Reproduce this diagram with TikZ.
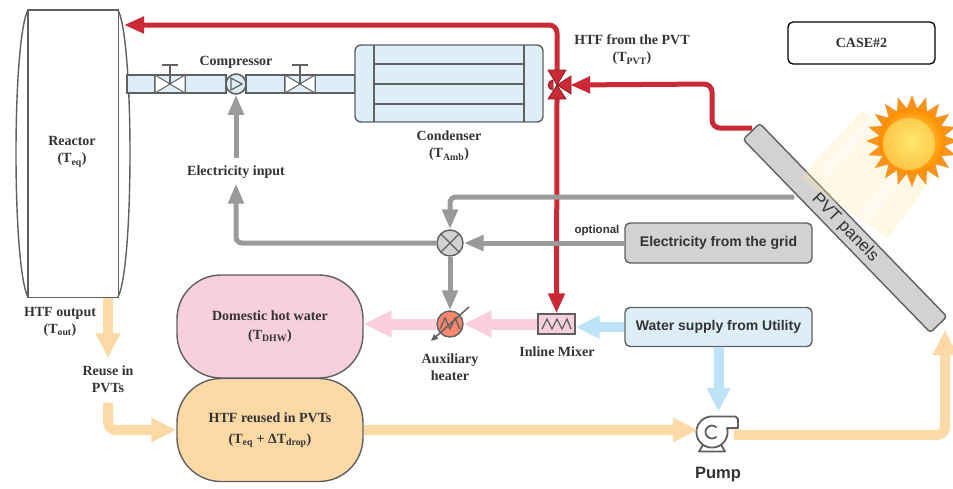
\documentclass[tikz,border=0pt]{standalone}
\usepackage{fontspec}
\setmainfont{Liberation Serif}
\newfontfamily\sansf{Liberation Sans}
\usetikzlibrary{arrows.meta}

\definecolor{txt}{HTML}{333333}
\definecolor{flowred}{HTML}{CC2936}
\definecolor{flowgray}{HTML}{9A9A9A}
\definecolor{flowpeach}{HTML}{FDD9A6}
\definecolor{flowpink}{HTML}{F8CFDB}
\definecolor{flowblue}{HTML}{BEE2F6}
\definecolor{edge}{HTML}{606060}
\definecolor{boxblue}{HTML}{DEEEF9}
\definecolor{boxgray}{HTML}{D2D2D2}
\definecolor{boxpink}{HTML}{F7D0DC}
\definecolor{boxpeach}{HTML}{FDD9A6}
\definecolor{heatred}{HTML}{F8876E}
\definecolor{sunspike}{HTML}{F7931E}
\definecolor{beam}{HTML}{FBE7A6}

\begin{document}
\begin{tikzpicture}[x=1pt,y=-1pt,
  lbl/.style={font=\fontsize{14}{17}\selectfont\bfseries, text=txt, align=center, inner sep=1pt},
  slbl/.style={font=\sansf\fontsize{14}{17}\selectfont\bfseries, text=txt, align=center, inner sep=1pt},
  part/.style={draw=edge, line width=1.4pt},
  srcbox/.style={part, rounded corners=5pt, minimum width=187pt, minimum height=40pt, slbl},
  tank/.style={part, rounded corners=44pt, minimum width=186pt, minimum height=103pt, lbl},
  redflow/.style={draw=flowred, line width=5pt, rounded corners=8pt, -{Triangle[length=20pt,width=16pt]}},
  grayflow/.style={draw=flowgray, line width=5pt, rounded corners=6pt, -{Triangle[length=20pt,width=15pt]}},
  peachflow/.style={draw=flowpeach, line width=10pt, rounded corners=8pt, -{Triangle[length=25pt,width=23pt]}},
  pinkflow/.style={draw=flowpink, line width=11pt, -{Triangle[length=28pt,width=25pt]}},
  blueflow/.style={draw=flowblue, line width=10pt, -{Triangle[length=24pt,width=22pt]}},
  pipe/.style={fill=boxblue, draw=edge, line width=1.2pt},
]
\useasboundingbox (0,0) rectangle (953,488);

% ---------- reactor ----------
\node[inner sep=0, minimum width=90pt, minimum height=287pt] (reactor) at (73,153.5) {};
\fill[white] (28,10) .. controls (12,40) and (12,267) .. (28,297) -- (118,297)
  .. controls (134,267) and (134,40) .. (118,10) -- cycle;
\draw[part] (28,10) .. controls (12,40) and (12,267) .. (28,297);
\draw[part] (118,10) .. controls (134,40) and (134,267) .. (118,297);
\draw[part] (reactor.south west) rectangle (reactor.north east);
\node[lbl] at (72,152) {Reactor\\(T\textsubscript{eq})};

% ---------- pipe line, valves and compressor ----------
\draw[pipe] (127,75) rectangle (155,93);
\draw[pipe] (185,75) rectangle (226,93);
\draw[pipe] (246,75) rectangle (285,93);
\draw[pipe] (315,75) rectangle (355,93);
\foreach \vx in {170,300}{
  \draw[pipe] (\vx-15,75) rectangle (\vx+15,93);
  \filldraw[fill=white, draw=edge, line width=1pt] (\vx-15,75) -- (\vx,84) -- (\vx-15,93) -- cycle;
  \filldraw[fill=white, draw=edge, line width=1pt] (\vx+15,75) -- (\vx,84) -- (\vx+15,93) -- cycle;
  \draw[edge, line width=1.2pt] (\vx,84) -- (\vx,65) (\vx-8,65) -- (\vx+8,65);
}
\node[circle, fill=boxblue, draw=edge, line width=1.6pt, minimum size=20pt, inner sep=0] (comp) at (236,84) {};
\draw[edge, line width=1.2pt] (231,78) -- (242,84) -- (231,90) -- cycle;
\node[lbl] at (236,62) {Compressor};

% ---------- condenser ----------
\node[part, fill=boxblue, rounded corners=6pt, minimum width=188pt, minimum height=77pt, inner sep=0] (cond) at (449,83.5) {};
\draw[part] (374,45) -- (374,122) (524,45) -- (524,122);
\draw[part] (374,64) -- (524,64) (374,84) -- (524,84) (374,104) -- (524,104);
\node[lbl] at (449,146) {Condenser\\(T\textsubscript{Amb})};

% ---------- case tag ----------
\node[draw=black, line width=1.3pt, rounded corners=5pt, minimum width=147pt, minimum height=42pt, lbl] (case) at (861.5,43) {CASE\#2};

% ---------- PVT panel and sun ----------
\node[draw=edge, line width=1.4pt, fill=boxgray, rounded corners=3pt, rotate=-45.9,
      minimum width=269pt, minimum height=23pt, inner sep=0,
      font=\sansf\fontsize{17}{19}\selectfont, text=txt] (pvt) at (845,228) {PVT panels};
\fill[beam, opacity=.3] (800,178) -- (862,110) -- (938,170) -- (888,238) -- cycle;
\fill[white, opacity=.4] (818,168) -- (870,116) -- (876,121) -- (828,178) -- cycle;
\fill[white, opacity=.4] (858,214) -- (905,158) -- (912,165) -- (868,224) -- cycle;
\begin{scope}[shift={(912,141)}]
  \fill[sunspike] (0:46) \foreach \k in {1,...,39}{ -- ({\k*9}:{ifthenelse(mod(\k,2)==0,46,33)}) } -- cycle;
  \shade[inner color=yellow!75!orange!60, outer color=orange!90!yellow] (0,0) circle[radius=33];
  \fill[yellow!70!orange!55, opacity=.6] (-3,3) circle[radius=26];
\end{scope}

% ---------- sources ----------
\node[srcbox, fill=boxgray] (grid) at (718.5,243) {Electricity from the grid};
\node[srcbox, fill=boxblue, minimum height=39pt] (water) at (718.5,327) {Water supply from Utility};
\node[font=\sansf\fontsize{11.5}{13}\selectfont\bfseries, text=txt] at (597,231) {optional};

% ---------- electricity switch ----------
\node[circle, fill=boxgray, draw=edge, line width=1.4pt, minimum size=26pt, inner sep=0] (mux) at (450,243) {};
\draw[edge, line width=1.3pt] (441,234) -- (459,252) (459,234) -- (441,252);
\node[lbl] (elecin) at (236,172) {Electricity input};

% ---------- heater and mixer ----------
\node[circle, fill=heatred, draw=edge, line width=1.4pt, minimum size=26pt, inner sep=0] (heater) at (450,324) {};
\draw[edge, line width=1.3pt] (440,329) -- (445,318) -- (450,329) -- (455,318) -- (460,329);
\draw[edge, line width=1.5pt, -{Triangle[length=7pt,width=6pt]}] (469,307) -- (431,341);
\node[lbl] at (450,367) {Auxiliary\\heater};

\node[part, fill=flowpink, minimum width=37pt, minimum height=20pt, inner sep=0] (mixer) at (556.5,324) {};
\draw[edge, line width=1.3pt] (542,329) -- (547,319) -- (552,329) -- (557,319) -- (562,329) -- (567,319) -- (571,329);
\node[lbl] at (557,352) {Inline Mixer};

% ---------- tanks ----------
\node[tank, fill=boxpink] (dhw) at (270,326.5) {Domestic hot water\\[2pt](T\textsubscript{DHW})};
\node[tank, fill=boxpeach] (htf) at (270,430) {HTF reused in PVTs\\[4pt](T\textsubscript{eq} + ΔT\textsubscript{drop})};

% ---------- pump ----------
\node[inner sep=0, minimum size=36pt] (pump) at (716,430) {};
\begin{scope}[shift={(712,432)}, y=1pt, scale=1.3]
  \draw[edge, line width=1.8pt, line join=round] (11.6,3) arc[start angle=14.5, end angle=-270, radius=12]
      -- (18,12) -- (20,10) -- (20,3) -- cycle;
  \draw[edge, line width=1.8pt] (3.5,3.5) arc[start angle=45, end angle=315, radius=5];
  \draw[edge, line width=1.8pt, line join=round] (-7,-10) -- (-10,-15) -- (10,-15) -- (7,-10);
\end{scope}
\node[slbl, font=\sansf\fontsize{16.5}{19}\selectfont\bfseries] at (718,475) {Pump};

% ---------- labels ----------
\node[lbl] at (632,50) {HTF from the PVT\\(T\textsubscript{PVT})};
\node[lbl] at (60,322) {HTF output\\(T\textsubscript{out})};
\node[lbl] (reuse) at (108,379) {Reuse in\\PVTs};

% ---------- red HTF loop ----------
\node[inner sep=0, minimum width=26pt, minimum height=28pt] (valve) at (557,85) {};
\coordinate (rin) at (124,25);
\coordinate (pvtred) at (752,128);
\draw[redflow] (valve.north) |- (rin);
\draw[redflow] (valve.south) -- (mixer.north);
\draw[redflow] (pvtred) -- (712,128) -- (712,84) -- (valve.east);
\begin{scope}[fill=flowred, draw=flowred!70!black, line width=.8pt]
  \filldraw (548,70) -- (566,70) -- (557,85) -- cycle;
  \filldraw (548,99) -- (566,99) -- (557,85) -- cycle;
  \filldraw (557,85) -- (571,76) -- (571,94) -- cycle;
  \filldraw (553,80) arc[start angle=-90, end angle=-270, radius=5] -- cycle;
\end{scope}

% ---------- electricity ----------
\coordinate (pvtout) at (794,197);
\draw[grayflow] (pvtout) -| (mux.north);
\draw[grayflow] (grid.west) -- (mux.east);
\draw[grayflow] (mux.south) -- (heater.north);
\draw[grayflow, shorten >=4pt] (mux.west) -| (elecin.south);
\draw[grayflow, shorten <=6pt] (elecin.north) -- (comp.south);

% ---------- water ----------
\draw[pinkflow] (mixer.west) -- (heater.east);
\draw[pinkflow] (heater.west) -- (heater.west -| dhw.east);
\draw[blueflow] (water.west) -- (water.west -| mixer.east);
\draw[blueflow] (water.south) -- (water.south |- pump.north);

% ---------- reused HTF ----------
\coordinate (rout) at (108,298);
\coordinate (pvtin) at (945,330);
\draw[peachflow, shorten >=6pt] (rout) -- (reuse.north);
\draw[peachflow, shorten <=9pt] (reuse.south) |- (htf.west);
\draw[peachflow] (htf.east) -- (htf.east -| pump.west);
\draw[peachflow] ([yshift=-5pt]pump.east) -| (pvtin);
\end{tikzpicture}
\end{document}
